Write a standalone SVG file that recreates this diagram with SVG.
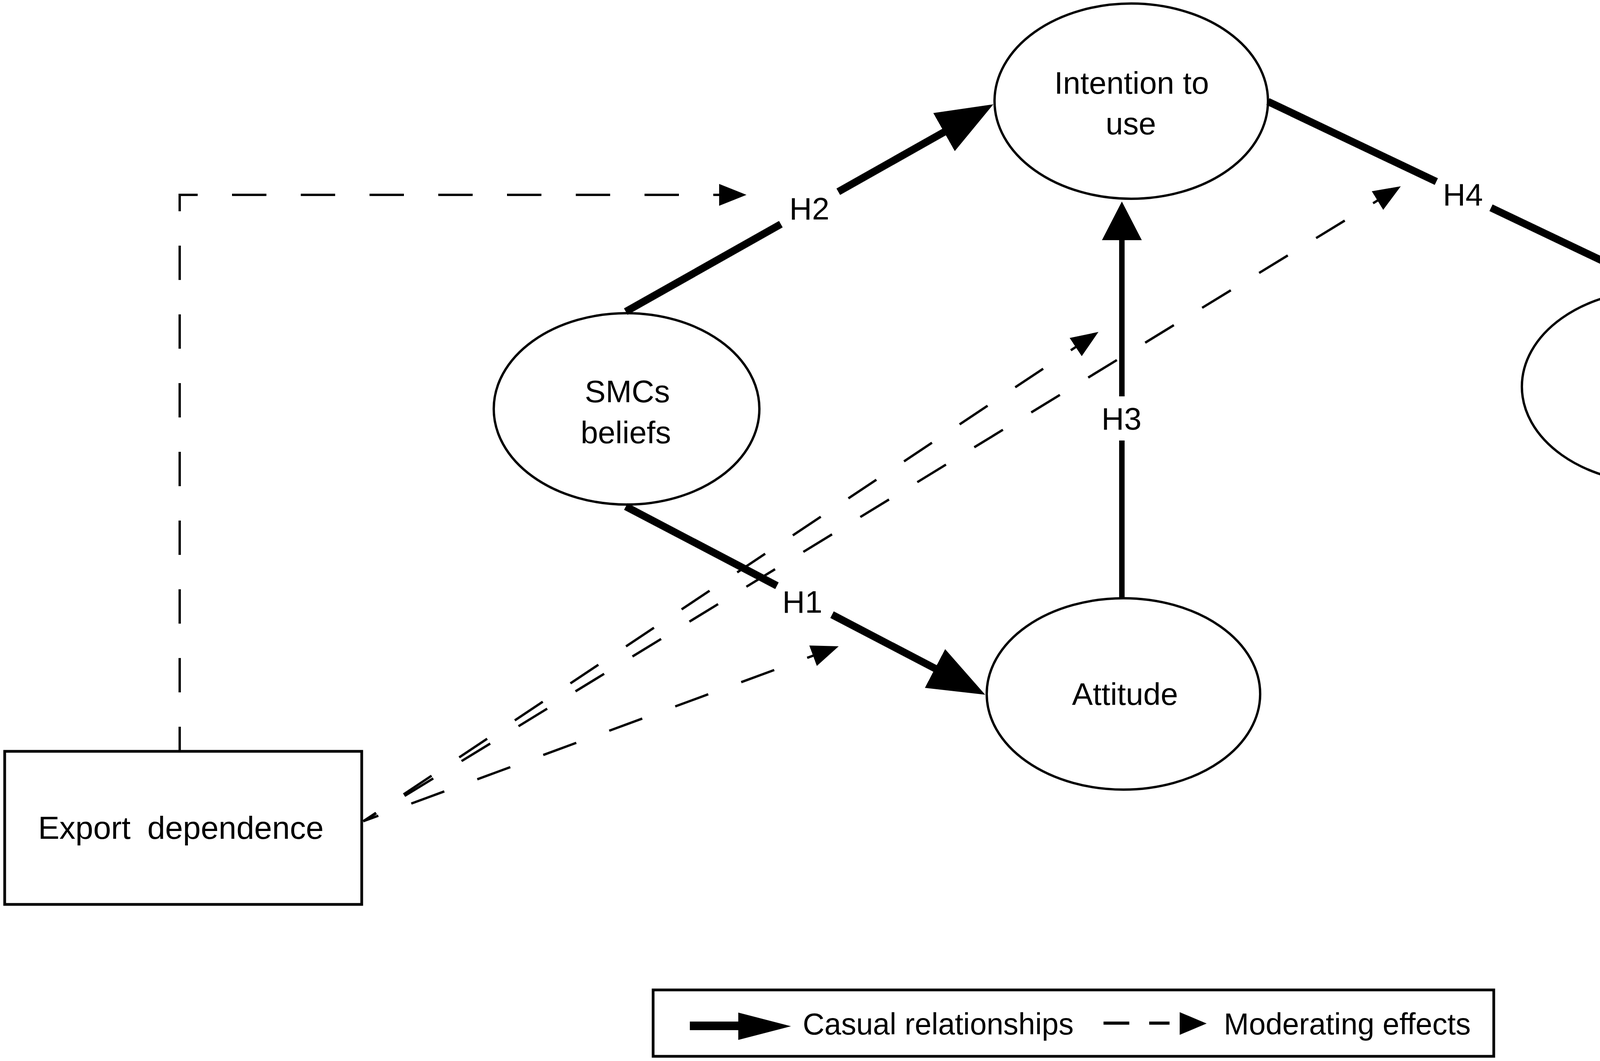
<svg xmlns="http://www.w3.org/2000/svg" width="4610" height="2717" viewBox="0 0 4610 2717">
<style>
.node{fill:#fff;stroke:#000;stroke-width:6}
.box{fill:#fff;stroke:#000;stroke-width:7}
.txt{font-family:"Liberation Sans",Arial,Helvetica,sans-serif;font-size:80px;fill:#000;text-anchor:middle}
.leg{font-family:"Liberation Sans",Arial,Helvetica,sans-serif;font-size:77px;fill:#000}
.causal{fill:none;stroke:#000;stroke-width:19}
.causal-thin{fill:none;stroke:#000;stroke-width:14}
.mod{fill:none;stroke:#000;stroke-width:6}
</style>
<defs>
<marker id="headL" markerUnits="userSpaceOnUse" viewBox="0 -56 145 112" markerWidth="145" markerHeight="112" refX="85" refY="0" orient="auto">
<polygon points="0,-56 145,0 0,56" fill="#000"/>
</marker>
<marker id="headS" markerUnits="userSpaceOnUse" viewBox="0 -51 99 102" markerWidth="99" markerHeight="102" refX="49" refY="0" orient="auto">
<polygon points="0,-51 99,0 0,51" fill="#000"/>
</marker>
<marker id="headD" markerUnits="userSpaceOnUse" viewBox="0 -28 70 56" markerWidth="70" markerHeight="56" refX="30" refY="0" orient="auto">
<polygon points="0,-28 70,0 0,28" fill="#000"/>
</marker>
</defs>
<rect width="4610" height="2717" fill="#fff"/>

<g id="node-intention">
<ellipse class="node" cx="2896" cy="259" rx="350" ry="250"/>
<text class="txt" x="2897" y="240">Intention to</text>
<text class="txt" x="2895" y="344">use</text>
</g>
<g id="node-smcs">
<ellipse class="node" cx="1604" cy="1047" rx="340" ry="245"/>
<text class="txt" x="1606" y="1030">SMCs</text>
<text class="txt" x="1602" y="1135">beliefs</text>
</g>
<g id="node-attitude">
<ellipse class="node" cx="2876" cy="1777" rx="350" ry="245"/>
<text class="txt" x="2880" y="1805">Attitude</text>
</g>
<g id="node-use">
<ellipse class="node" cx="4246" cy="990" rx="350" ry="248"/>
<text class="txt" x="4242" y="1022">Use</text>
</g>
<g id="node-export">
<rect class="box" x="12" y="1924" width="914" height="392"/>
<text class="txt" x="463" y="2148" style="font-size:82px;word-spacing:20px">Export dependence</text>
</g>

<g id="connectors">
<g id="edge-h2">
<path class="causal" d="M1602,798 L1999,574 M2146,491 L2490.7,296.5" marker-end="url(#headL)"/>
<text class="txt" x="2072" y="562">H2</text>
</g>
<g id="edge-h1">
<path class="causal" d="M1602,1297 L1989,1500 M2130,1574 L2468.9,1751.2" marker-end="url(#headL)"/>
<text class="txt" x="2054" y="1569">H1</text>
</g>
<g id="edge-h3">
<path class="causal-thin" d="M2872,1532 L2872,1128 M2872,1015 L2872,566" marker-end="url(#headS)"/>
<text class="txt" x="2871" y="1100">H3</text>
</g>
<g id="edge-h4">
<path class="causal" d="M3246,260 L3677,465 M3817,532 L4197.9,713.5" marker-end="url(#headS)"/>
<text class="txt" x="3745" y="526">H4</text>
</g>
<g id="mod-h2">
<path class="mod" d="M460,1922 V499 H1871" stroke-dasharray="88 88" stroke-dashoffset="27" marker-end="url(#headD)"/>
</g>
<g id="mod-h1">
<path class="mod" d="M930,2103 L2109.5,1668.8" stroke-dasharray="90 90" stroke-dashoffset="49" marker-end="url(#headD)"/>
</g>
<g id="mod-h3">
<path class="mod" d="M930,2103 L2778.7,872.2" stroke-dasharray="86 85" stroke-dashoffset="47" marker-end="url(#headD)"/>
</g>
<g id="mod-h4">
<path class="mod" d="M930,2103 L3551.9,497.9" stroke-dasharray="86 85" stroke-dashoffset="47" marker-end="url(#headD)"/>
</g>
</g>

<g id="legend">
<rect class="box" x="1672" y="2535" width="2152" height="170"/>
<line x1="1766" y1="2627" x2="1895" y2="2627" stroke="#000" stroke-width="22"/>
<polygon points="1890,2593 2025,2628 1890,2663" fill="#000"/>
<text class="leg" x="2055" y="2649">Casual relationships</text>
<path d="M2825,2620 H2891 M2942,2620 H2994" stroke="#000" stroke-width="8" fill="none"/>
<polygon points="3020,2592 3089,2621 3020,2650" fill="#000"/>
<text class="leg" x="3133" y="2649">Moderating effects</text>
</g>
</svg>
